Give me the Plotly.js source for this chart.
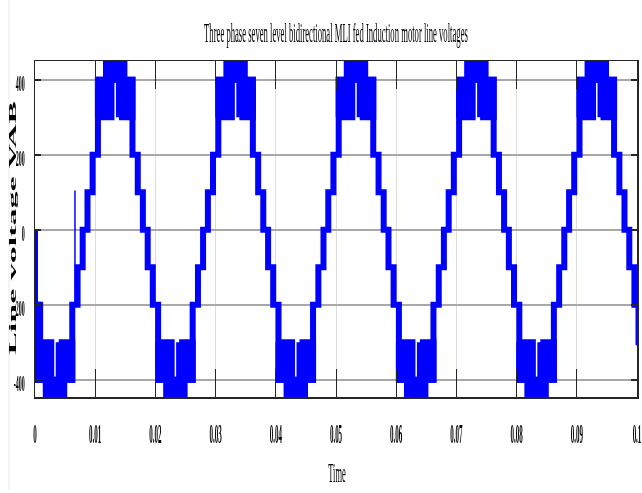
<!DOCTYPE html>
<html>
<head>
<meta charset="utf-8">
<script src="https://cdn.plot.ly/plotly-3.0.1.min.js"></script>
<style>html,body{margin:0;padding:0;background:#fff;}#chart{width:642px;height:493px;}
#chart text{filter:grayscale(1);}</style>
</head>
<body>
<div id="chart"></div>
<script>
// ---- Data (times in milliseconds) ----
// Staircase part of the line voltage VAB: transition instants and the level held after each
const stepTimesMs = [0, 0, 0.45, 6.19, 7.07, 7.92, 8.72, 9.57, 10.45,
  16.19, 17.07, 17.92, 18.72, 19.57, 20.45,
  26.19, 27.07, 27.92, 28.72, 29.57, 30.45,
  36.19, 37.07, 37.92, 38.72, 39.57, 40.45,
  46.19, 47.07, 47.92, 48.72, 49.57, 50.45,
  56.19, 57.07, 57.92, 58.72, 59.57, 60.45,
  66.19, 67.07, 67.92, 68.72, 69.57, 70.45,
  76.19, 77.07, 77.92, 78.72, 79.57, 80.45,
  86.19, 87.07, 87.92, 88.72, 89.57, 90.45,
  96.19, 97.07, 97.92, 98.72, 99.57, 100.25, 100.6];
const stepLevels = [0, -200, -400, -200, -100, 0, 100, 200, 400,
  200, 100, 0, -100, -200, -400,
  -200, -100, 0, 100, 200, 400,
  200, 100, 0, -100, -200, -400,
  -200, -100, 0, 100, 200, 400,
  200, 100, 0, -100, -200, -400,
  -200, -100, 0, 100, 200, 400,
  200, 100, 0, -100, -200, -400,
  -200, -100, 0, 100, 200, 400,
  200, 100, 0, -100, -200, -300, -300];

// PWM (dense switching) regions around each half-cycle peak
const pwmSign        = [-1, 1, -1, 1, -1, 1, -1, 1, -1, 1];
const pwmOuterStart  = [0.45, 10.45, 20.45, 30.45, 40.45, 50.45, 60.45, 70.45, 80.45, 90.45];
const pwmGapStart    = [2.70, 12.70, 22.70, 32.70, 42.70, 52.70, 62.70, 72.70, 82.70, 92.70];
const pwmGapEnd      = [3.94, 13.94, 23.94, 33.94, 43.94, 53.94, 63.94, 73.94, 83.94, 93.94];
const pwmOuterEnd    = [6.19, 16.19, 26.19, 36.19, 46.19, 56.19, 66.19, 76.19, 86.19, 96.19];
const pwmInnerStart  = [1.79, 11.79, 21.79, 31.79, 41.79, 51.79, 61.79, 71.79, 81.79, 91.79];
const pwmInnerEnd    = [4.85, 14.85, 24.85, 34.85, 44.85, 54.85, 64.85, 74.85, 84.85, 94.85];
const pwmLevels      = [300, 400, 500]; // outer band 300..400, inner band 400..500
// start-up switching between -200 and -400
const startupBand    = {startMs: 0, endMs: 0.85, low: -400, high: -200};
// thin spike at start-up
const spikeTimeMs = 6.64, spikeLow = -200, spikeHigh = 105;

const xTickVals  = [0, 0.01, 0.02, 0.03, 0.04, 0.05, 0.06, 0.07, 0.08, 0.09, 0.1];
const xTickText  = ['0', '0.01', '0.02', '0.03', '0.04', '0.05', '0.06', '0.07', '0.08', '0.09', '0.1'];
const yTickVals  = [-400, -200, 0, 200, 400];
const yTickText  = ['-400', '-200', '0', '200', '400'];

// ---- Build traces ----
const ms = v => v / 1000;
const blue = '#0000ff';

const bx = [], by = [];
function addBand(a, b, lo, hi) {
  bx.push(ms(a), ms(b), ms(b), ms(a), ms(a), null);
  by.push(lo, lo, hi, hi, lo, null);
}
addBand(startupBand.startMs, startupBand.endMs, startupBand.low, startupBand.high);
for (let i = 0; i < pwmSign.length; i++) {
  const s = pwmSign[i];
  addBand(pwmOuterStart[i], pwmGapStart[i], s * pwmLevels[0], s * pwmLevels[1]);
  addBand(pwmGapEnd[i], pwmOuterEnd[i], s * pwmLevels[0], s * pwmLevels[1]);
  addBand(pwmInnerStart[i], pwmInnerEnd[i], s * pwmLevels[1], s * pwmLevels[2]);
}

const traces = [
  {x: stepTimesMs.map(ms), y: stepLevels, type: 'scatter', mode: 'lines',
   line: {shape: 'hv', color: blue, width: 6}, hoverinfo: 'skip'},
  {x: bx, y: by, type: 'scatter', mode: 'lines', fill: 'toself', fillcolor: blue,
   line: {color: blue, width: 6, shape: 'linear'}, hoverinfo: 'skip'},
  {x: [ms(spikeTimeMs), ms(spikeTimeMs)], y: [spikeLow, spikeHigh], type: 'scatter', mode: 'lines',
   line: {color: blue, width: 1.5}, hoverinfo: 'skip'}
];

const frame = '#262626';
const layout = {
  width: 642, height: 493,
  margin: {l: 35, r: 5, t: 61, b: 96, pad: 0},
  paper_bgcolor: '#fff', plot_bgcolor: '#fff',
  showlegend: false,
  font: {family: 'Liberation Serif', color: '#000'},
  title: {text: 'Three phase seven level bidirectional MLI fed Induction motor line voltages',
          x: 336 / 642, xanchor: 'center', y: 1 - 33 / 493, yanchor: 'middle', yref: 'container',
          font: {family: 'Liberation Serif', size: 27, color: '#000'}},
  xaxis: {range: [0, 0.1], tickvals: xTickVals, ticktext: xTickText,
          ticks: 'inside', ticklen: 28, tickwidth: 1, tickcolor: frame,
          showline: true, linecolor: frame, linewidth: 1.5, mirror: 'ticks',
          showgrid: true, gridcolor: '#dcdcdc', gridwidth: 1, zeroline: false,
          tickfont: {family: 'Liberation Serif', size: 28, color: '#000', weight: 'bold'},
          ticklabelstandoff: 11, ticklabeloverflow: 'allow',
          title: {text: 'Time', standoff: 10, font: {family: 'Liberation Serif', size: 28, color: '#000'}}},
  yaxis: {range: [-446, 450], tickvals: yTickVals, ticktext: yTickText,
          ticks: 'inside', ticklen: 6, tickwidth: 1.5, tickcolor: frame,
          showline: true, linecolor: frame, linewidth: 1.5, mirror: 'ticks',
          showgrid: true, gridcolor: '#a8a8a8', gridwidth: 1.5, zeroline: false,
          tickfont: {family: 'Liberation Serif', size: 24, color: '#000', weight: 'bold'},
          ticklabelstandoff: 4, ticklabeloverflow: 'allow',
          title: {text: 'Line voltage VAB', standoff: 8,
                  font: {family: 'Liberation Serif', size: 34, color: '#000', weight: 'bold'}}},
  shapes: [
    {type: 'line', xref: 'paper', yref: 'paper', x0: (9 - 35) / 602, x1: (9 - 35) / 602,
     y0: (396.7 - 490) / 336, y1: (396.7) / 336 + 0.2, line: {color: '#e8e8e8', width: 1}}
  ]
};

// Condense text horizontally (the reference text is strongly narrowed)
function squeeze(el, s, anchor) {
  const bb = el.getBBox();
  const lx = anchor === 'end' ? bb.x + bb.width : bb.x + bb.width / 2;
  const ly = bb.y + bb.height / 2;
  let cx = lx;
  const tl = el.transform.baseVal;
  if (tl.numberOfItems) {
    const m = tl.consolidate().matrix;
    cx = m.a * lx + m.c * ly + m.e;
  }
  const cur = el.getAttribute('transform') || '';
  el.setAttribute('transform', `translate(${cx},0) scale(${s},1) translate(${-cx},0) ${cur}`);
}
// Move an element so that its on-screen centre sits at (tx, ty) in figure pixels
function placeCenter(gd, el, tx, ty) {
  const svgR = gd.querySelector('.main-svg').getBoundingClientRect();
  const r = el.getBoundingClientRect();
  const dx = tx === null ? 0 : tx - (r.left + r.width / 2 - svgR.left);
  const dy = ty === null ? 0 : ty - (r.top + r.height / 2 - svgR.top);
  const cur = el.getAttribute('transform') || '';
  el.setAttribute('transform', `translate(${dx},${dy}) ${cur}`);
}

Plotly.newPlot('chart', traces, layout, {displayModeBar: false, staticPlot: true}).then(gd => {
  gd.querySelectorAll('.gtitle').forEach(el => { squeeze(el, 0.32, 'middle'); placeCenter(gd, el, 336, 33); });
  gd.querySelectorAll('.xtick text').forEach(el => squeeze(el, 0.25, 'middle'));
  gd.querySelectorAll('.ytick text').forEach(el => {
    squeeze(el, 0.25, 'end');
    const cur = el.getAttribute('transform') || '';
    el.setAttribute('transform', `translate(0,2.5) ${cur}`);
  });
  gd.querySelectorAll('.g-xtitle text').forEach(el => { squeeze(el, 0.3, 'middle'); placeCenter(gd, el, 337, 473); });
  gd.querySelectorAll('.g-ytitle text').forEach(el => { squeeze(el, 0.28, 'middle'); placeCenter(gd, el, 13, 228); });
});
</script>
</body>
</html>
